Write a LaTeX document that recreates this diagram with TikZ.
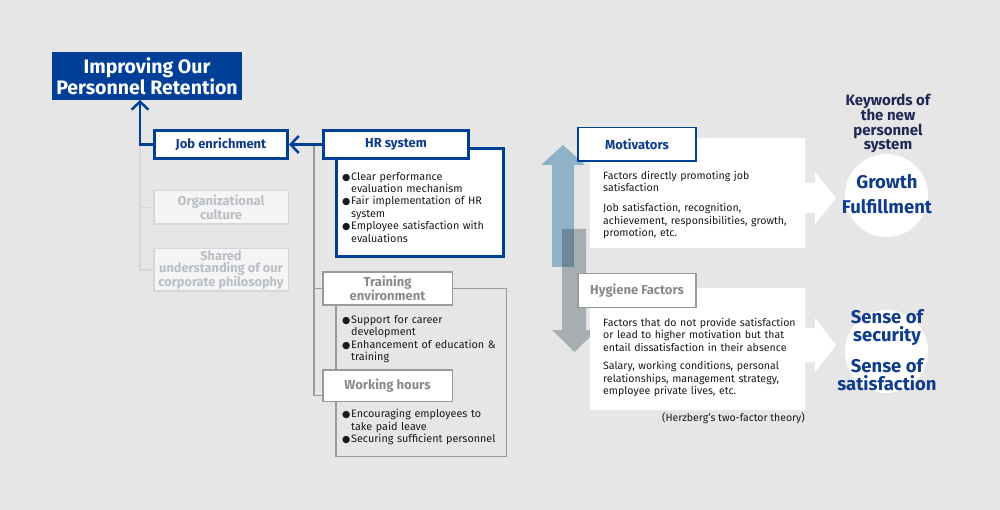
\documentclass[tikz,border=0pt]{standalone}
\usepackage{fontspec}
\setmainfont{Fira Sans}
\newfontfamily\symf{DejaVu Sans}
\usetikzlibrary{arrows.meta}
\definecolor{bg}{HTML}{E6E6E6}
\definecolor{dblue}{HTML}{003F98}
\definecolor{tblue}{HTML}{0F3C8C}
\definecolor{navy}{HTML}{1E2A55}
\definecolor{ltxt}{HTML}{B9BFC5}
\definecolor{lborder}{HTML}{D3D7DB}
\definecolor{gborder}{HTML}{9A9A9A}
\definecolor{gtxt}{HTML}{8A8A8A}
\definecolor{arrblue}{HTML}{8FB2C6}
\definecolor{arrgray}{HTML}{A7AEB2}
\definecolor{arrover}{HTML}{6C8898}
\definecolor{bodytxt}{HTML}{1A1A1A}
\newcommand\bitem[1]{\par\hangindent=9pt\hangafter=1\noindent\makebox[9pt][l]{\symf\fontsize{9.5}{9}\selectfont ●}#1\par}
\tikzset{
  hdr/.style={draw, fill=white, inner sep=0pt, align=center, font=\bfseries\fontsize{13}{13.5}\selectfont},
  bluehdr/.style={hdr, draw=dblue, line width=3pt, text=tblue},
  grayhdr/.style={hdr, draw=gborder, line width=1.5pt, text=gtxt},
  lighthdr/.style={hdr, draw=lborder, line width=1.5pt, fill=white!60!bg, text=ltxt},
  bullets/.style={anchor=north west, inner sep=0pt, text width=175pt, text=bodytxt, font=\fontsize{10.8}{12.4}\selectfont, align=left},
  motext/.style={anchor=north west, inner sep=0pt, text width=215pt, text=bodytxt, font=\fontsize{10.6}{12.4}\selectfont, align=left},
  bluearrow/.style={draw=dblue, line width=2.5pt, -{Straight Barb[length=8pt,width=17pt,line width=2.5pt]}},
  glinelight/.style={draw=lborder, line width=1.5pt},
  glinedark/.style={draw=gborder, line width=1.5pt},
  kw/.style={inner sep=0pt, align=center, text=tblue, font=\bfseries\fontsize{18.5}{18}\selectfont},
}
\begin{document}
\begin{tikzpicture}[x=1pt,y=-1pt]
\fill[bg] (0,0) rectangle (1000,510);
\useasboundingbox (0,0) rectangle (1000,510);

% title
\node[fill=dblue, text=white, inner sep=0pt, minimum width=190pt, minimum height=48pt, align=center,
  font=\bfseries\fontsize{19.5}{19}\selectfont] (title) at (147,76) {Improving Our\\Personnel Retention};
\coordinate (tl) at (140,100);

% left column
\node[bluehdr, minimum width=133pt, minimum height=28pt] (job) at (221,144.5) {Job enrichment};
\node[lighthdr, minimum width=134.5pt, minimum height=33.5pt] (org) at (221,207.5) {Organizational\\culture};
\node[lighthdr, minimum width=134.5pt, minimum height=42.5pt, font=\bfseries\fontsize{12.8}{12.5}\selectfont] (shared) at (221,270) {Shared\\understanding of our\\corporate philosophy};
\coordinate (lv) at (140,146);
\coordinate (lo) at (140,207.5);
\draw[glinelight] (lv) |- (shared.west);
\draw[glinelight] (lo) -- (org.west);

% HR system
\node[draw=dblue, line width=3pt, fill=white, minimum width=167pt, minimum height=108pt, inner sep=0pt] (hrbody) at (420,202.5) {};
\node[bluehdr, minimum width=145pt, minimum height=28pt] (hr) at (396,144.5) {HR system};
\node[bullets] (hrtext) at (342,167.5) {\bitem{Clear performance\newline evaluation mechanism}\bitem{Fair implementation of HR\newline system}\bitem{Employee satisfaction with\newline evaluations}};

% training / working
\node[draw=gborder, line width=1.5pt, minimum width=170.5pt, minimum height=167.5pt, inner sep=0pt] (trbody) at (421,372.5) {};
\node[grayhdr, minimum width=129.5pt, minimum height=32.5pt] (tr) at (387.5,288.5) {Training\\environment};
\node[bullets] (trtext) at (342,311) {\bitem{Support for career\newline development}\bitem{Enhancement of education \&\newline training}};
\node[grayhdr, minimum width=129.5pt, minimum height=31.5pt] (wh) at (387.5,385.5) {Working hours};
\node[bullets] (whtext) at (342,405) {\bitem{Encouraging employees to\newline take paid leave}\bitem{Securing sufficient personnel}};

% connectors
\coordinate (gj) at (314,144.5);
\draw[glinedark] (gj) |- (tr.west);
\draw[glinedark] (gj) |- ([yshift=-10pt]wh.west);
\draw[bluearrow] (hr.west) -- (job.east);
\draw[bluearrow] (job.west) -| (tl);

% vertical arrows
\fill[arrblue] (552,267) -- (552,165) -- (541,165) -- (563,145) -- (585,165) -- (574,165) -- (574,267) -- cycle;
\fill[arrgray] (562,229) -- (586,229) -- (586,330) -- (597,330) -- (574.5,352) -- (552,330) -- (562,330) -- cycle;
\fill[arrover] (562,229) rectangle (574,267);

% motivators
\fill[white] (590,138) -- (805,138) -- (805,183) -- (815,183) -- (815,172) -- (836,198) -- (815,224) -- (815,213) -- (805,213) -- (805,248) -- (590,248) -- cycle;
\node[hdr, draw=dblue, line width=1.5pt, text=tblue, minimum width=118pt, minimum height=33.5pt] (mot) at (637,144.5) {Motivators};
\node[motext] (mottext) at (603,171) {Factors directly promoting job\\satisfaction\\[7.5pt]Job satisfaction, recognition,\\achievement, responsibilities, growth,\\promotion, etc.};

% hygiene
\fill[white] (590,288) -- (805,288) -- (805,328) -- (815,328) -- (815,318) -- (836,345) -- (815,372) -- (815,362) -- (805,362) -- (805,410) -- (590,410) -- cycle;
\node[grayhdr, minimum width=118pt, minimum height=33.5pt] (hyg) at (637,290.5) {Hygiene Factors};
\node[motext] (hygtext) at (603,318) {Factors that do not provide satisfaction\\or lead to higher motivation but that\\entail dissatisfaction in their absence\\[6pt]Salary, working conditions, personal\\relationships, management strategy,\\employee private lives, etc.};
\node[anchor=east, inner sep=0pt, text=bodytxt, font=\fontsize{10.5}{10}\selectfont] (herz) at (805,418) {(Herzberg’s two-factor theory)};

% keywords
\node[inner sep=0pt, align=center, text=navy, font=\bfseries\fontsize{15}{14.5}\selectfont] (kwt) at (888,123.5) {Keywords of\\the new\\personnel\\system};
\fill[white] (886.5,195.5) circle[radius=41.5];
\fill[white] (886.5,351.5) circle[radius=41.5];
\node[kw] (g1) at (887,182) {Growth};
\node[kw] (g2) at (887,207) {Fulfillment};
\node[kw] (s1) at (887,327.5) {Sense of\\security};
\node[kw] (s2) at (887,374.5) {Sense of\\satisfaction};
\end{tikzpicture}
\end{document}
